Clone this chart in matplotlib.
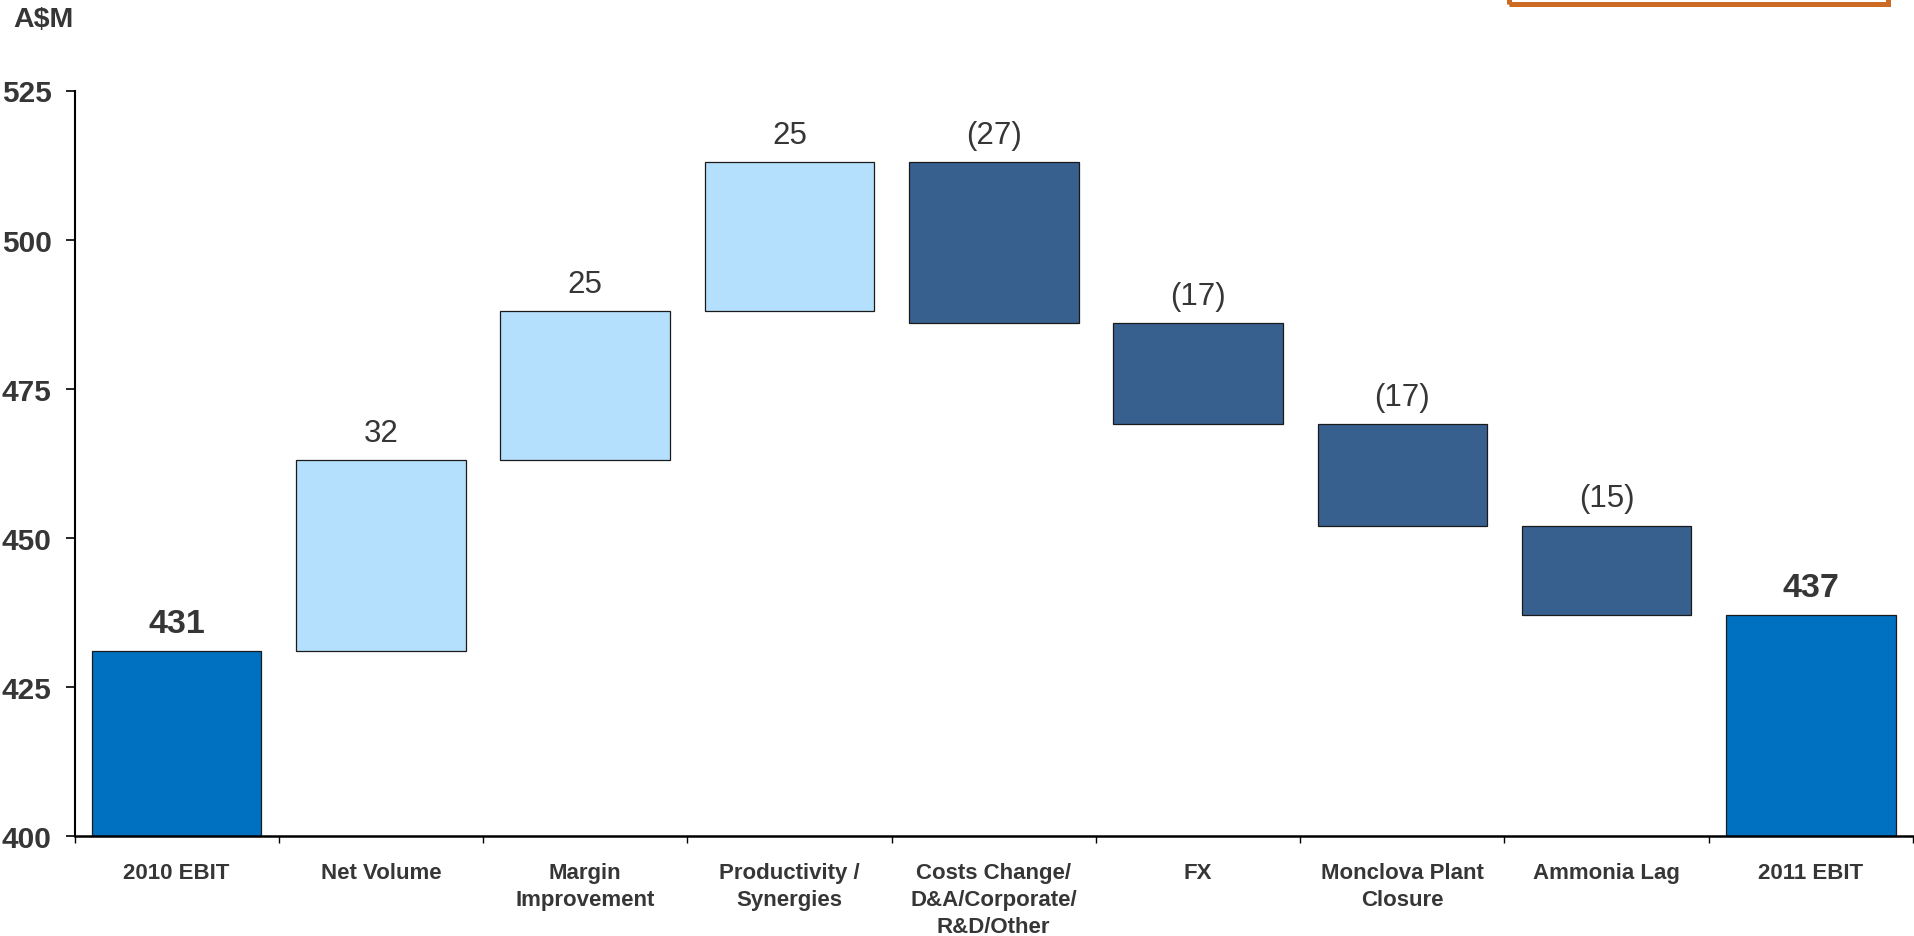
import matplotlib
matplotlib.use("Agg")
import matplotlib.pyplot as plt
from matplotlib.patches import Rectangle
import numpy as np

plt.rcParams['font.family'] = ['Liberation Sans', 'DejaVu Sans']

# EBIT bridge, A$M
categories = ["2010 EBIT", "Net Volume", "Margin\nImprovement",
              "Productivity /\nSynergies", "Costs Change/\nD&A/Corporate/\nR&D/Other",
              "FX", "Monclova Plant\nClosure", "Ammonia Lag", "2011 EBIT"]
start_value = 431
changes = [32, 25, 25, -27, -17, -17, -15]
end_value = 437
y_ticks = [400, 425, 450, 475, 500, 525]

TOTAL_COLOR = "#0070C0"
UP_COLOR = "#B4DFFD"
DOWN_COLOR = "#37608F"
TEXT_COLOR = "#363636"

W, H, DPI = 1914, 937, 100
fig = plt.figure(figsize=(W / DPI, H / DPI), dpi=DPI)
ax = fig.add_axes([74.5 / W, 1 - 837 / H, (1913 - 74.5) / W, (837 - 91.5) / H])

x = np.arange(len(categories))
bar_w = 0.83

# running totals for the floating bars
levels = np.concatenate([[start_value], start_value + np.cumsum(changes)])
bottoms = [0]
heights = [start_value]
colors = [TOTAL_COLOR]
for i, c in enumerate(changes):
    lo = min(levels[i], levels[i + 1])
    bottoms.append(lo)
    heights.append(abs(c))
    colors.append(UP_COLOR if c > 0 else DOWN_COLOR)
bottoms.append(0)
heights.append(end_value)
colors.append(TOTAL_COLOR)

ax.bar(x, heights, bottom=bottoms, width=bar_w, color=colors,
       edgecolor="#1a1a1a", linewidth=0.9, zorder=2)

# value labels
label_texts = [str(start_value)] + [str(c) if c > 0 else f"({abs(c)})" for c in changes] + [str(end_value)]
for i, txt in enumerate(label_texts):
    top = bottoms[i] + heights[i]
    is_total = i in (0, len(categories) - 1)
    ax.annotate(txt, (x[i], top), xytext=(0, 14), textcoords="offset points",
                ha="center", va="baseline", color=TEXT_COLOR,
                fontsize=24.5 if is_total else 22.5,
                fontweight="bold" if is_total else "normal")

ax.set_xlim(-0.5, len(categories) - 0.5)
ax.set_ylim(400, 525)
ax.set_yticks(y_ticks)
ax.set_yticklabels([str(v) for v in y_ticks], fontsize=21.5, fontweight="bold", color=TEXT_COLOR)
ax.tick_params(axis="y", length=6.5, width=1.2, pad=10, direction="out")

ax.set_xticks(x)
ax.set_xticklabels(categories, fontsize=16, fontweight="bold", color=TEXT_COLOR, linespacing=1.38)
ax.set_xticks(np.arange(-0.5, len(categories), 1.0), minor=True)
ax.tick_params(axis="x", which="major", length=0, pad=18.5)
ax.tick_params(axis="x", which="minor", length=5, width=1.0, direction="out")

for side in ("top", "right"):
    ax.spines[side].set_visible(False)
ax.spines["left"].set_linewidth(1.5)
ax.spines["bottom"].set_linewidth(1.8)
ax.spines["bottom"].set_zorder(3)

fig.text(13 / W, 1 - 27 / H, "A$M", fontsize=20.5, fontweight="bold",
         color=TEXT_COLOR, ha="left", va="baseline")

# outlined callout box at the top right
fig.patches.append(Rectangle((1508.5 / W, 1 - 4.5 / H), (1887.5 - 1508.5) / W, 0.2,
                             transform=fig.transFigure, fill=False,
                             edgecolor="#CC6A24", linewidth=3.6, clip_on=False))

fig.savefig("out.png", dpi=DPI, facecolor="white")
